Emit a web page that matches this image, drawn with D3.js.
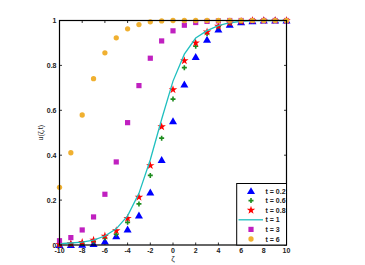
<!DOCTYPE html>
<html>
<head>
<meta charset="utf-8">
<script src="https://cdn.jsdelivr.net/npm/d3@7"></script>
<style>
body { margin: 0; background: #fff; }
text { font-family: "Liberation Sans", Arial, sans-serif; }
</style>
</head>
<body>
<svg id="chart" width="365" height="265"></svg>
<script>
var xs = d3.range(-10, 11);
var t02 = [0, 0.001, 0.002, 0.005, 0.016, 0.04, 0.07, 0.132, 0.234, 0.379, 0.552,
    0.716, 0.838, 0.915, 0.96, 0.982, 0.993, 0.997, 1, 1, 1];
var t06 = [0.001, 0.003, 0.007, 0.016, 0.031, 0.048, 0.101, 0.183, 0.31, 0.476, 0.65,
    0.79, 0.885, 0.942, 0.972, 0.988, 0.996, 1, 1, 1, 1];
var t08 = [0.003, 0.006, 0.012, 0.022, 0.04, 0.064, 0.119, 0.213, 0.354, 0.527, 0.692,
    0.821, 0.9, 0.949, 0.975, 0.99, 0.996, 1, 1, 1, 1];
var t1 = [0.006, 0.009, 0.013, 0.022, 0.04, 0.072, 0.13, 0.23, 0.38, 0.56, 0.73,
    0.85, 0.922, 0.955, 0.977, 0.99, 0.996, 0.999, 1, 1, 1];
var t3 = [0.019, 0.033, 0.067, 0.125, 0.226, 0.37, 0.545, 0.71, 0.832, 0.909, 0.954,
    0.979, 0.991, 0.996, 0.998, 1, 1, 1, 1, 1, 1];
var t6 = [0.257, 0.411, 0.579, 0.741, 0.856, 0.923, 0.963, 0.982, 0.994, 0.998, 1,
    1, 1, 1, 1, 1, 1, 1, 1, 1, 1];
var xTicks = d3.range(-10, 11, 2);
var yTicks = [0, 0.2, 0.4, 0.6, 0.8, 1];

var series = [
    {label: 't = 0.2', values: t02, type: 'triangle', color: '#0000ff'},
    {label: 't = 0.6', values: t06, type: 'plus', color: '#1e8c1e'},
    {label: 't = 0.8', values: t08, type: 'star', color: '#ff0000'},
    {label: 't = 1', values: t1, type: 'line', color: '#1fbfbf'},
    {label: 't = 3', values: t3, type: 'square', color: '#c020c0'},
    {label: 't = 6', values: t6, type: 'circle', color: '#f0b030'}
];

var pLeft = 59.5, pRight = 286.5, pTop = 20.5, pBottom = 245;
var svg = d3.select('#chart');
var x = d3.scaleLinear().domain([-10, 10]).range([pLeft, pRight]);
var y = d3.scaleLinear().domain([0, 1]).range([pBottom, pTop]);

var symbols = {
    triangle: d3.symbol().type(d3.symbolTriangle).size(28),
    star: d3.symbol().type(d3.symbolStar).size(22),
    square: d3.symbol().type(d3.symbolSquare).size(27),
    circle: d3.symbol().type(d3.symbolCircle).size(22)
};

function drawMarker(g, s, cx, cy) {
    if (s.type === 'plus') {
        g.append('path')
            .attr('d', 'M' + (cx - 2.5) + ',' + cy + 'h5M' + cx + ',' + (cy - 2.5) + 'v5')
            .attr('stroke', s.color).attr('stroke-width', 1.6).attr('fill', 'none');
    } else {
        g.append('path')
            .attr('d', symbols[s.type]())
            .attr('transform', 'translate(' + cx + ',' + (s.type === 'triangle' ? cy + 0.8 : cy) + ')')
            .attr('fill', s.color);
    }
}

// axes box with inward ticks
var axisG = svg.append('g').attr('font-size', 7).attr('fill', '#222');
xTicks.forEach(function(v) {
    axisG.append('line').attr('x1', x(v)).attr('x2', x(v)).attr('y1', pBottom).attr('y2', pBottom - 2.5)
        .attr('stroke', '#000').attr('stroke-width', 0.8);
    axisG.append('line').attr('x1', x(v)).attr('x2', x(v)).attr('y1', pTop).attr('y2', pTop + 2.5)
        .attr('stroke', '#000').attr('stroke-width', 0.8);
    axisG.append('text').attr('x', x(v)).attr('y', pBottom + 8).attr('text-anchor', 'middle')
        .attr('font-weight', 'bold').text(v);
});
yTicks.forEach(function(v) {
    axisG.append('line').attr('x1', pLeft).attr('x2', pLeft + 2.5).attr('y1', y(v)).attr('y2', y(v))
        .attr('stroke', '#000').attr('stroke-width', 0.8);
    axisG.append('line').attr('x1', pRight).attr('x2', pRight - 2.5).attr('y1', y(v)).attr('y2', y(v))
        .attr('stroke', '#000').attr('stroke-width', 0.8);
    axisG.append('text').attr('x', pLeft - 3).attr('y', y(v) + 2.5).attr('text-anchor', 'end')
        .attr('font-weight', 'bold').text(v);
});
axisG.append('text').attr('x', (pLeft + pRight) / 2).attr('y', 261).attr('text-anchor', 'middle')
    .attr('font-size', 8).text('ζ');
axisG.append('text').attr('transform', 'translate(43,' + ((pTop + pBottom) / 2) + ') rotate(-90)')
    .attr('text-anchor', 'middle').attr('font-size', 7).text('u(ζ,t)');

// data
var line = d3.line().x(function(d, i) { return x(xs[i]); }).y(function(d) { return y(d); });
var dataG = svg.append('g');
series.forEach(function(s) {
    if (s.type === 'line') {
        dataG.append('path').attr('d', line(s.values)).attr('fill', 'none')
            .attr('stroke', s.color).attr('stroke-width', 1.3);
    } else {
        s.values.forEach(function(v, i) { drawMarker(dataG, s, x(xs[i]), y(v)); });
    }
});

svg.append('rect').attr('x', pLeft).attr('y', pTop).attr('width', pRight - pLeft).attr('height', pBottom - pTop)
    .attr('fill', 'none').attr('stroke', '#000').attr('stroke-width', 1.2);

// legend
var lg = svg.append('g');
lg.append('rect').attr('x', 236.7).attr('y', 183.5).attr('width', pRight - 236.7).attr('height', pBottom - 183.5)
    .attr('fill', '#fff').attr('stroke', '#000').attr('stroke-width', 1);
series.forEach(function(s, i) {
    var ly = 191 + i * 9.6;
    if (s.type === 'line') {
        lg.append('line').attr('x1', 238.5).attr('x2', 263).attr('y1', ly).attr('y2', ly)
            .attr('stroke', s.color).attr('stroke-width', 1.3);
    } else {
        drawMarker(lg, s, 251, ly);
    }
    lg.append('text').attr('x', 265.5).attr('y', ly + 2.5).attr('font-size', 7)
        .attr('font-weight', 'bold').attr('fill', '#222').text(s.label);
});
</script>
</body>
</html>
